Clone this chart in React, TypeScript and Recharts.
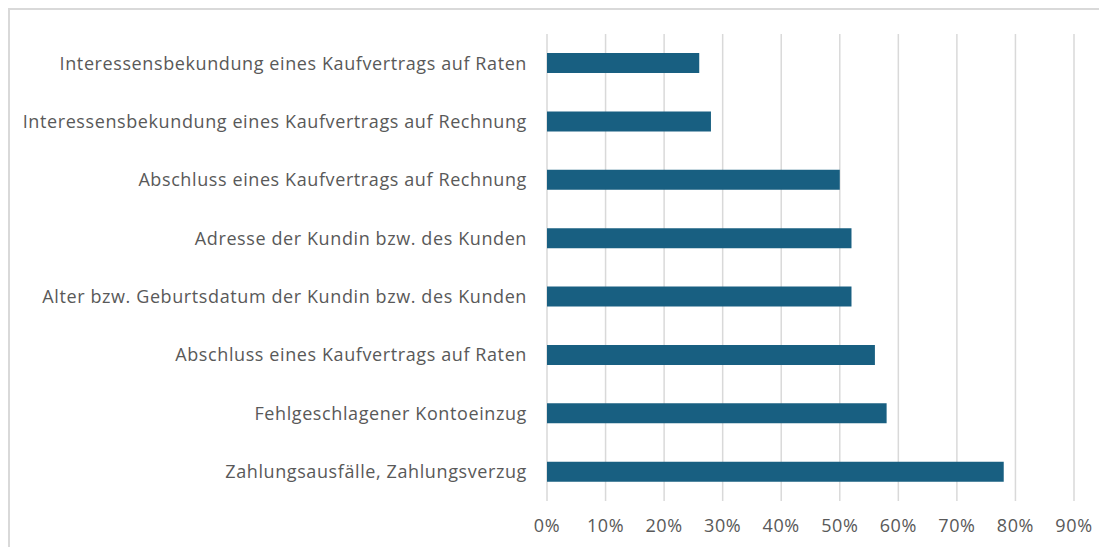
import { BarChart, Bar, XAxis, YAxis, CartesianGrid } from 'recharts';

const categories = [
  'Interessensbekundung eines Kaufvertrags auf Raten',
  'Interessensbekundung eines Kaufvertrags auf Rechnung',
  'Abschluss eines Kaufvertrags auf Rechnung',
  'Adresse der Kundin bzw. des Kunden',
  'Alter bzw. Geburtsdatum der Kundin bzw. des Kunden',
  'Abschluss eines Kaufvertrags auf Raten',
  'Fehlgeschlagener Kontoeinzug',
  'Zahlungsausfälle, Zahlungsverzug',
];

const shares = [0.26, 0.28, 0.5, 0.52, 0.52, 0.56, 0.58, 0.78];

const xTicks = [0, 0.1, 0.2, 0.3, 0.4, 0.5, 0.6, 0.7, 0.8, 0.9];

const chartData = categories.map((name, i) => ({ name, value: shares[i] }));

const tickStyle = {
  fill: '#595959',
  fontSize: 18,
  fontFamily: '"Open Sans", sans-serif',
  letterSpacing: 0.6,
};

export default function App() {
  return (
    <div
      style={{
        width: 1099,
        height: 539,
        borderTop: '2px solid #d9d9d9',
        borderLeft: '2px solid #d9d9d9',
        boxSizing: 'border-box',
        background: '#fff',
      }}
    >
      <BarChart
        width={1097}
        height={537}
        data={chartData}
        layout="vertical"
        margin={{ top: 24, right: 33, left: 0, bottom: 16 }}
        barSize={20}
      >
        <CartesianGrid horizontal={false} stroke="#d9d9d9" strokeWidth={1.5} />
        <XAxis
          type="number"
          domain={[0, 0.9]}
          ticks={xTicks}
          tickFormatter={(v: number) => `${Math.round(v * 100)}%`}
          axisLine={false}
          tickLine={false}
          tickMargin={12}
          height={30}
          tick={tickStyle}
        />
        <YAxis
          type="category"
          dataKey="name"
          width={537}
          axisLine={false}
          tickLine={false}
          tickMargin={14}
          interval={0}
          tick={tickStyle}
        />
        <Bar dataKey="value" fill="#185f81" isAnimationActive={false} />
      </BarChart>
    </div>
  );
}
